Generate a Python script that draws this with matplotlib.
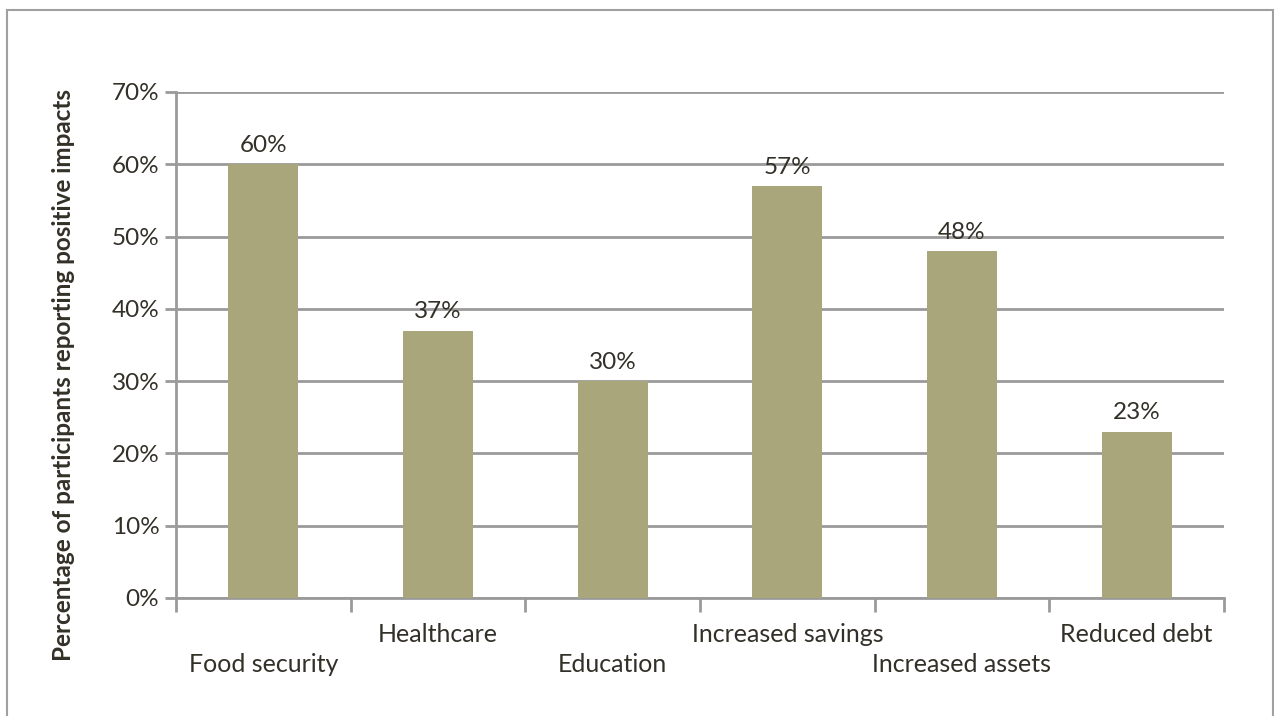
import matplotlib.pyplot as plt
from matplotlib.patches import Rectangle
from matplotlib.ticker import FuncFormatter

categories = ['Food security', 'Healthcare', 'Education',
              'Increased savings', 'Increased assets', 'Reduced debt']
values = [60, 37, 30, 57, 48, 23]
yticks = [0, 10, 20, 30, 40, 50, 60, 70]

bar_color = '#A9A67B'
grid_color = '#9A9A9A'
text_color = '#333028'

plt.rcParams['font.family'] = ['Lato', 'DejaVu Sans']

fig = plt.figure(figsize=(12.74, 7.16), dpi=100)
# outer chart border
fig.patches.append(Rectangle((7 / 1274, -0.05), 1266 / 1274, 1 - 10 / 716 + 0.05,
                             transform=fig.transFigure, fill=False,
                             edgecolor='#A0A0A0', linewidth=1.5))

ax = fig.add_axes([176 / 1274, 1 - 598 / 716, 1048 / 1274, 506 / 716])

x = list(range(len(categories)))
bars = ax.bar(x, values, width=0.4, color=bar_color, zorder=3)

for xi, v in zip(x, values):
    ax.annotate(f'{v}%', (xi, v), xytext=(0, 6), textcoords='offset points',
                ha='center', va='bottom', fontsize=17.5, color=text_color)

ax.set_xlim(-0.5, len(categories) - 0.5)
ax.set_ylim(0, 70)
ax.set_yticks(yticks)
ax.yaxis.set_major_formatter(FuncFormatter(lambda v, p: f'{v:.0f}%'))
ax.yaxis.grid(True, color=grid_color, linewidth=2, zorder=0)
ax.set_axisbelow(True)

# category boundaries as tick marks, labels staggered in two rows
ax.set_xticks([i - 0.5 for i in range(len(categories) + 1)])
ax.set_xticklabels([])
for i, name in enumerate(categories):
    dy = -55 if i % 2 == 0 else -25
    ax.annotate(name, (i, 0), xytext=(0, dy), textcoords='offset pixels',
                ha='center', va='top', fontsize=18, color=text_color,
                annotation_clip=False)

ax.tick_params(axis='y', length=8, width=2, color=grid_color,
               labelsize=17.5, labelcolor=text_color, pad=4)
ax.tick_params(axis='x', length=10, width=2, color=grid_color)

for s in ['top', 'right']:
    ax.spines[s].set_visible(False)
for s in ['left', 'bottom']:
    ax.spines[s].set_color(grid_color)
    ax.spines[s].set_linewidth(2)

ax.set_ylabel('Percentage of participants reporting positive impacts',
              fontsize=17.5, fontweight='bold', color=text_color)
ax.yaxis.set_label_coords(-0.0964, 0.44)

fig.savefig('out.png', dpi=100)
